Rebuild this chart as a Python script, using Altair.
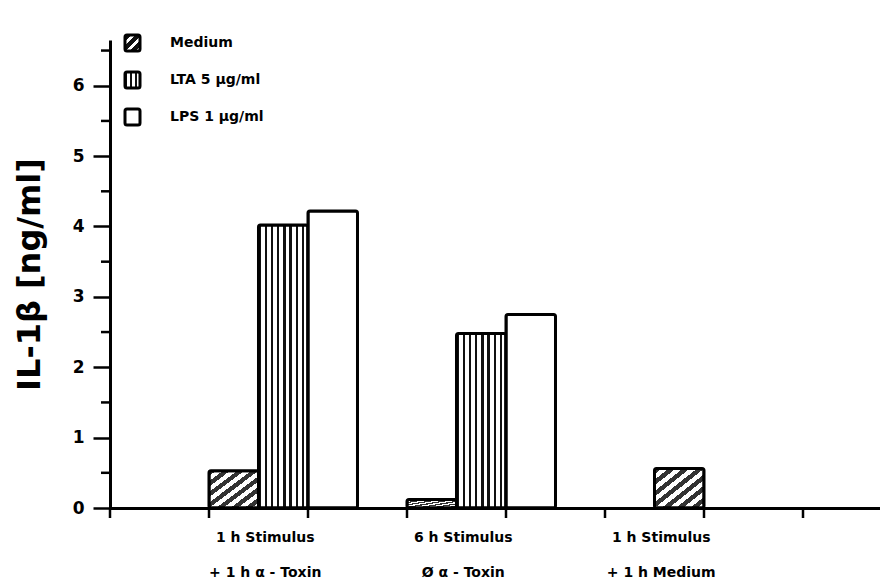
import altair as alt
import pandas as pd

# ---- data ----
groups = ["1 h Stimulus|+ 1 h α - Toxin", "6 h Stimulus|Ø α - Toxin", "1 h Stimulus|+ 1 h Medium"]
series = ["Medium", "LTA 5 µg/ml", "LPS 1 µg/ml"]
medium = [0.53, 0.12, 0.56]
lta = [4.02, 2.48, None]
lps = [4.22, 2.75, None]
y_major = [0, 1, 2, 3, 4, 5, 6]
y_minor = [0.5, 1.5, 2.5, 3.5, 4.5, 5.5, 6.5]
x_tick_marks = [0, 1, 2, 3, 4, 5, 6, 7]

rows = []
for g, m, l, p in zip(groups, medium, lta, lps):
    for s, v in zip(series, (m, l, p)):
        if v is not None:
            rows.append({"group": g, "series": s, "value": v})
df = pd.DataFrame(rows)

# ---- style ----
W, H = 770, 468
FONT = "DejaVu Sans"
INK = "black"


def stripes(n, dark_frac, x2, y2, dark="#111111", light="#ffffff"):
    stops = []
    for k in range(n):
        a = k / n
        b = (k + dark_frac) / n
        c = (k + 1) / n
        stops += [
            alt.GradientStop(color=dark, offset=a),
            alt.GradientStop(color=dark, offset=b),
            alt.GradientStop(color=light, offset=b),
            alt.GradientStop(color=light, offset=c),
        ]
    return alt.LinearGradient(gradient="linear", stops=stops, x1=0, y1=0, x2=x2, y2=y2)


bar_fill = {
    series[0]: stripes(7, 0.5, 1, 1, dark="#333333"),
    series[1]: stripes(8, 0.38, 1, 0),
    series[2]: "#ffffff",
}
legend_fill = {
    series[0]: stripes(3, 0.6, 1, 1),
    series[1]: stripes(3, 0.45, 1, 0),
    series[2]: "#ffffff",
}

x_scale = alt.Scale(domain=groups, paddingInner=0.25, paddingOuter=0.5694, align=0.439)
x_axis = alt.Axis(
    title=None, labelAngle=0, labelExpr="split(datum.label, '|')",
    labelFont=FONT, labelFontWeight="bold", labelFontSize=14, labelColor=INK,
    labelLineHeight=35, labelPadding=29, labelOffset=-18, labelBaseline="middle",
    ticks=False, tickSize=0, domainColor=INK, domainWidth=3, grid=False,
)
y_scale = alt.Scale(domain=[0, 6.65], nice=False, zero=True)
y_axis = alt.Axis(
    title="IL-1β  [ng/ml]", values=y_major, grid=False,
    labelFont=FONT, labelFontWeight="bold", labelFontSize=17, labelColor=INK, labelPadding=9,
    tickSize=17, tickWidth=2.5, tickColor=INK, domainColor=INK, domainWidth=3,
    titleFont=FONT, titleFontWeight="bold", titleFontSize=32, titleColor=INK, titlePadding=26,
)
x_enc = alt.X("group:N", scale=x_scale, sort=groups, axis=x_axis)
y_enc = alt.Y("value:Q", scale=y_scale, axis=y_axis)
off_enc = alt.XOffset("series:N", scale=alt.Scale(domain=series, paddingInner=0, paddingOuter=0))

base = alt.Chart(df).transform_joinaggregate(n="count()", groupby=["group"])

layers = []
for s in series:
    # groups with several stimuli: side by side
    layers.append(
        base.transform_filter(f"datum.n > 1 && datum.series == '{s}'")
        .mark_bar(fill=bar_fill[s], stroke=INK, strokeWidth=3, cornerRadius=2)
        .encode(x=x_enc, xOffset=off_enc, y=y_enc)
    )
    # group with a single stimulus: centred
    layers.append(
        base.transform_filter(f"datum.n == 1 && datum.series == '{s}'")
        .mark_bar(fill=bar_fill[s], stroke=INK, strokeWidth=3, cornerRadius=2,
                  width=alt.RelativeBandSize(1 / 3))
        .encode(x=x_enc, y=y_enc)
    )

# minor y ticks
layers.append(
    alt.Chart(pd.DataFrame({"value": y_minor}))
    .mark_rule(color=INK, strokeWidth=2.5)
    .encode(y=y_enc, x=alt.value(-9), x2=alt.value(0))
)

# legend (drawn by hand so the symbols can carry the hatching)
for i, s in enumerate(series):
    yc = 3 + 37 * i
    layers.append(
        alt.Chart(pd.DataFrame({"series": [s]}))
        .mark_rect(fill=legend_fill[s], stroke=INK, strokeWidth=3, cornerRadius=2)
        .encode(x=alt.value(15), x2=alt.value(30), y=alt.value(yc - 8), y2=alt.value(yc + 8))
    )
    layers.append(
        alt.Chart(pd.DataFrame({"series": [s]}))
        .mark_text(align="left", baseline="middle", font=FONT, fontWeight="bold", fontSize=14, color=INK)
        .encode(x=alt.value(60), y=alt.value(yc), text="series:N")
    )

bars = alt.layer(*layers)

ticks = (
    alt.Chart(pd.DataFrame({"t": x_tick_marks}))
    .mark_rule(color=INK, strokeWidth=2.5)
    .encode(
        x=alt.X("t:Q", scale=alt.Scale(domain=[0, W / 99], nice=False, zero=False), axis=None),
        y=alt.value(H), y2=alt.value(H + 10),
    )
)

chart = (
    alt.layer(bars, ticks)
    .resolve_scale(x="independent")
    .properties(
        width=W, height=H,
        padding={"left": 102, "top": 32, "right": 0, "bottom": 72},
        autosize=alt.AutoSizeParams(type="none"),
        background="white",
    )
    .configure_view(stroke=None)
)

chart.save("out.html", embed_options={"renderer": "svg", "actions": False})
